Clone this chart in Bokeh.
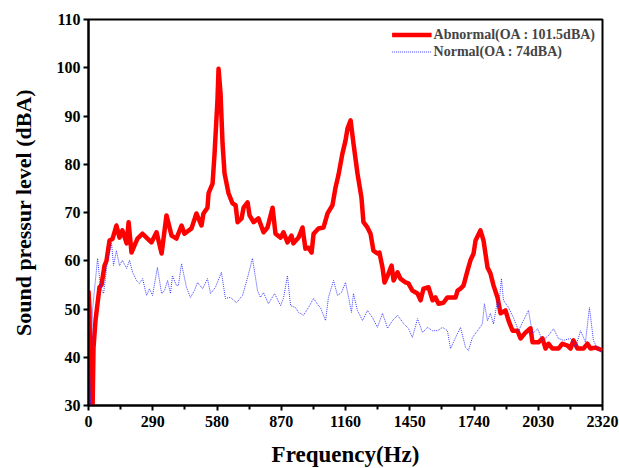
from bokeh.plotting import figure
from bokeh.models import FixedTicker, Range1d
from bokeh.embed import file_html
from bokeh.resources import INLINE

# Abnormal (OA : 101.5 dBA)
abn_f = [0, 4.5, 9, 18, 22.6, 31.6, 49.6, 58.7, 72.2, 81.2, 94.8, 108, 126, 140, 153, 172, 181, 194,
         221, 244, 266, 284, 307, 330, 352, 375, 397, 420, 433, 465, 487, 510, 519, 537, 542, 560,
         569, 582, 587, 596, 605, 614, 632, 650, 664, 673, 691, 700, 718, 727, 745, 767, 790, 808,
         831, 844, 867, 880, 898, 916, 925, 948, 966, 979, 993, 1007, 1016, 1038, 1061, 1079, 1101,
         1115, 1128, 1146, 1160, 1169, 1183, 1196, 1214, 1232, 1241, 1259, 1273, 1286, 1304, 1313,
         1327, 1336, 1350, 1368, 1377, 1395, 1408, 1431, 1444, 1462, 1485, 1499, 1512, 1535, 1553,
         1566, 1580, 1602, 1620, 1657, 1666, 1679, 1693, 1711, 1724, 1738, 1747, 1769, 1783, 1801,
         1814, 1828, 1846, 1860, 1882, 1896, 1914, 1936, 1950, 1972, 1995, 2004, 2031, 2049, 2063,
         2076, 2094, 2121, 2139, 2162, 2176, 2189, 2207, 2234, 2252, 2266, 2288, 2320]
abn_db = [53.8, 50, 28, 28, 42, 47.6, 54.5, 55, 59, 60, 64.2, 64.5, 67.3, 64.8, 66.3, 63.6, 68, 61.7,
          64.6, 65.6, 64.6, 63.8, 65.9, 61.5, 69.4, 65.2, 64.6, 67.3, 65.6, 66.7, 69.8, 67.3, 69.8,
          71, 74, 76, 82.2, 93.2, 99.8, 94.7, 84.3, 78.1, 74, 71.9, 71.5, 68, 68.8, 71, 72.1, 69.4,
          68, 68.8, 65.9, 66.9, 71, 65.6, 64.8, 65.9, 63.8, 65.2, 63.6, 64.8, 66.9, 62.5, 62.7, 61.7,
          65.6, 66.7, 66.9, 69.8, 71.5, 75.2, 77.7, 82.2, 84.9, 87.4, 89.1, 84.3, 78.1, 73.1, 68,
          66.9, 65.6, 62.1, 61.5, 61.7, 58.6, 55.5, 56.9, 59, 55.9, 57.6, 56.3, 55.5, 55.3, 53.8,
          53.2, 51.8, 54.2, 54.5, 51.8, 52.4, 51.1, 51.3, 52.4, 52.4, 53.8, 54.2, 54.9, 58, 60.1,
          61.5, 64.2, 66.3, 64.2, 58.6, 57.4, 54.9, 52.4, 49.1, 49.7, 47.6, 45.5, 45.5, 43.9, 45.1,
          46, 43.1, 43.1, 43.9, 41.8, 42.8, 41.8, 41.8, 42.8, 42.4, 41.8, 43.5, 41.8, 41.8, 42.8,
          41.8, 42, 41.4]

# Normal (OA : 74 dBA)
nor_f = [0, 9, 18, 41, 54, 68, 86, 104, 113, 126, 140, 153, 172, 185, 199, 217, 230, 244, 262, 275,
         289, 311, 330, 343, 357, 370, 379, 397, 406, 420, 442, 460, 478, 492, 515, 537, 551, 573,
         600, 618, 641, 668, 695, 718, 740, 763, 776, 790, 812, 840, 867, 880, 898, 912, 934, 948,
         970, 993, 1016, 1038, 1047, 1070, 1083, 1106, 1124, 1142, 1160, 1174, 1187, 1196, 1214,
         1237, 1259, 1282, 1304, 1327, 1350, 1372, 1395, 1422, 1444, 1462, 1485, 1508, 1530, 1553,
         1575, 1598, 1620, 1634, 1657, 1679, 1702, 1715, 1733, 1756, 1778, 1787, 1801, 1814, 1828,
         1846, 1851, 1864, 1873, 1896, 1918, 1941, 1963, 1986, 2004, 2027, 2049, 2076, 2099, 2121,
         2144, 2176, 2198, 2221, 2243, 2261, 2279, 2297, 2320]
nor_db = [42, 30, 49.7, 60.5, 54.5, 53.2, 60.1, 63.6, 59, 62.1, 59, 60.1, 58.4, 60.1, 57.6, 55.9,
          55.3, 56.3, 52.8, 54.2, 52.8, 58.6, 53.2, 53.8, 55.9, 53.2, 56.9, 54.9, 54.9, 59.4, 54.5,
          52.4, 53.8, 55.5, 54.2, 56.3, 53.2, 54.5, 57.6, 52.2, 52.4, 51.3, 52.8, 56.5, 60.5, 53.8,
          52.4, 53.4, 51.1, 53.2, 50.7, 52.2, 56.9, 50.7, 50.3, 49.3, 48.7, 50.3, 52.2, 50.7, 50.3,
          47.6, 52.4, 55.9, 52.8, 53.4, 55.5, 52.4, 49.3, 53.2, 49.7, 47.6, 49.7, 48.2, 46.2, 49.1,
          46, 47.6, 48.7, 47, 46, 44.1, 48, 45.1, 46.2, 45.5, 45.5, 46.2, 45.5, 41.8, 44.1, 46.2,
          42, 41.4, 44.1, 45.5, 46.9, 51.1, 47.6, 49.1, 46.9, 51.8, 50.3, 56.3, 51.8, 50.3, 48.2,
          45.5, 47.6, 49.7, 44.9, 45.9, 43.5, 44.5, 45.9, 43.9, 43.5, 43.9, 42, 45.5, 43.1, 50.3,
          43.5, 41.8, 40.8]

x_ticks = [0, 290, 580, 870, 1160, 1450, 1740, 2030, 2320]
x_minor = [145, 435, 725, 1015, 1305, 1595, 1885, 2175]
y_ticks = [30, 40, 50, 60, 70, 80, 90, 100, 110]

FONT = "Liberation Serif"

p = figure(width=619, height=468, output_backend="svg", toolbar_location=None,
           x_range=Range1d(0, 2320), y_range=Range1d(30, 110),
           min_border_left=88, min_border_right=17, min_border_top=19, min_border_bottom=63)
p.frame_width = 514
p.frame_height = 386

p.line(abn_f, abn_db, line_color="#ff0000", line_width=4.5, line_join="round",
       legend_label="Abnormal(OA : 101.5dBA)")
p.line(nor_f, nor_db, line_color="#2a2aff", line_width=1, line_dash="1 1", line_alpha=0.9,
       legend_label="Normal(OA : 74dBA)")

p.grid.visible = False
p.outline_line_color = "black"
p.outline_line_width = 2
p.background_fill_color = "white"
p.border_fill_color = "white"

p.xaxis.ticker = FixedTicker(ticks=x_ticks, minor_ticks=x_minor)
p.yaxis.ticker = FixedTicker(ticks=y_ticks)

for ax in (p.xaxis[0], p.yaxis[0]):
    ax.axis_line_width = 2
    ax.axis_line_color = "black"
    ax.major_tick_line_width = 2
    ax.major_tick_in = 0
    ax.major_tick_out = 5
    ax.minor_tick_line_width = 2
    ax.minor_tick_in = 0
    ax.minor_tick_out = 4
    ax.major_label_text_font = FONT
    ax.major_label_text_font_style = "bold"
    ax.major_label_text_font_size = "16px"
    ax.major_label_text_color = "black"
    ax.axis_label_text_font = FONT
    ax.axis_label_text_font_style = "bold"
    ax.axis_label_text_color = "black"

p.xaxis.axis_label = "Frequency(Hz)"
p.xaxis.axis_label_text_font_size = "23px"
p.xaxis.axis_label_standoff = 12
p.xaxis.major_label_standoff = 5

p.yaxis.axis_label = "Sound pressur level (dBA)"
p.yaxis.axis_label_text_font_size = "22px"
p.yaxis.axis_label_standoff = 18
p.yaxis.major_label_standoff = 3

p.legend.location = "top_right"
p.legend.border_line_color = None
p.legend.background_fill_alpha = 0
p.legend.label_text_font = FONT
p.legend.label_text_font_style = "bold"
p.legend.label_text_font_size = "14px"
p.legend.glyph_width = 40
p.legend.glyph_height = 17
p.legend.spacing = 0
p.legend.padding = 0
p.legend.margin = 7
p.legend.label_standoff = 2

open("out.html", "w").write(file_html(p, INLINE))
